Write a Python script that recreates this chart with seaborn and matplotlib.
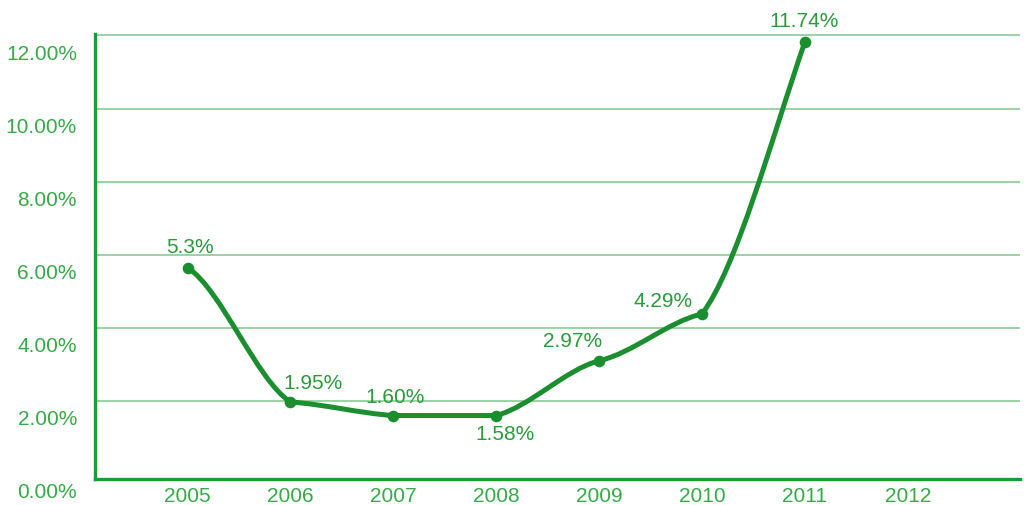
"""Smoothed rate line chart, 2005-2012."""

import matplotlib

matplotlib.use("Agg")
import matplotlib.pyplot as plt
from matplotlib.path import Path
from matplotlib.patches import PathPatch
from matplotlib.ticker import FuncFormatter
from matplotlib.transforms import ScaledTranslation
import numpy as np
import pandas as pd
import seaborn as sns

years = ["2005", "2006", "2007", "2008", "2009", "2010", "2011", "2012"]
rates = [5.65, 1.97, 1.60, 1.60, 3.10, 4.38, 11.83]
point_labels = ["5.3%", "1.95%", "1.60%", "1.58%", "2.97%", "4.29%", "11.74%"]
y_ticks = [0, 2, 4, 6, 8, 10, 12]

# label offsets in pixels from each point
label_offsets = [(2, 21), (23, 20), (2, 19), (9, -18), (-27, 20), (-39, 13), (-1, 21)]

LINE = "#1b8f30"
TEXT = "#2a9a3c"
TICK_TEXT = "#36aa48"
GRID = "#80c78b"
AXIS = "#1f9a35"


def _smooth_path(xs, ys, end_ratio=0.5, last_ratio=1.1):
    """One cubic per segment, eased at the joints (flatter than the chord)."""
    verts = [(xs[0], ys[0])]
    codes = [Path.MOVETO]
    n = len(xs)
    for i in range(1, n):
        x0, y0, x1, y1 = xs[i - 1], ys[i - 1], xs[i], ys[i]
        dx, dy = x1 - x0, y1 - y0
        r1 = last_ratio if i == n - 1 else end_ratio
        verts += [
            (x0 + dx / 3, y0 + end_ratio * dy / 3),
            (x1 - dx / 3, y1 - r1 * dy / 3),
            (x1, y1),
        ]
        codes += [Path.CURVE4] * 3
    return Path(verts, codes)


sns.set_theme(style="white")
plt.rcParams["font.family"] = ["Liberation Sans", "DejaVu Sans"]

df = pd.DataFrame({"pos": np.arange(len(rates)), "rate": rates})

fig = plt.figure(figsize=(10.24, 5.06), dpi=100)
ax = fig.add_axes([95 / 1024, 26 / 506, 925 / 1024, 445 / 506])

ax.set_xlim(-0.899, 8.09)
ax.set_ylim(-0.137, 12.04)

ax.add_patch(
    PathPatch(
        _smooth_path(df["pos"].tolist(), df["rate"].tolist()),
        facecolor="none",
        edgecolor=LINE,
        linewidth=3.6,
        capstyle="round",
        joinstyle="round",
        zorder=3,
    )
)
sns.scatterplot(data=df, x="pos", y="rate", ax=ax, color=LINE, s=70,
                edgecolor=LINE, linewidth=0, zorder=4)

for pos, rate, text, (dx, dy) in zip(df["pos"], df["rate"], point_labels, label_offsets):
    ax.annotate(text, (pos, rate), xytext=(dx, dy), textcoords="offset pixels",
                ha="center", va="center", fontsize=15, color=TEXT)

ax.set_xticks(range(len(years)), years)
ax.set_yticks(y_ticks)
ax.yaxis.set_major_formatter(FuncFormatter(lambda v, _p: f"{v:.2f}%"))
ax.grid(True, axis="y", color=GRID, linewidth=1.1)
ax.yaxis.get_gridlines()[0].set_visible(False)
ax.set_axisbelow(True)
ax.set_xlabel("")
ax.set_ylabel("")

for side in ["top", "right"]:
    ax.spines[side].set_visible(False)
for side in ["left", "bottom"]:
    ax.spines[side].set_color(AXIS)
    ax.spines[side].set_linewidth(2.4)

ax.tick_params(axis="x", length=0, pad=5, labelsize=15, labelcolor=TICK_TEXT)
ax.tick_params(axis="y", length=5, width=2, color=AXIS, direction="out",
               pad=8, labelsize=15, labelcolor=TICK_TEXT)
for lbl in ax.get_yticklabels():
    lbl.set_transform(lbl.get_transform() + ScaledTranslation(0, -0.16, fig.dpi_scale_trans))

fig.savefig("out.png", dpi=100)
plt.close(fig)
